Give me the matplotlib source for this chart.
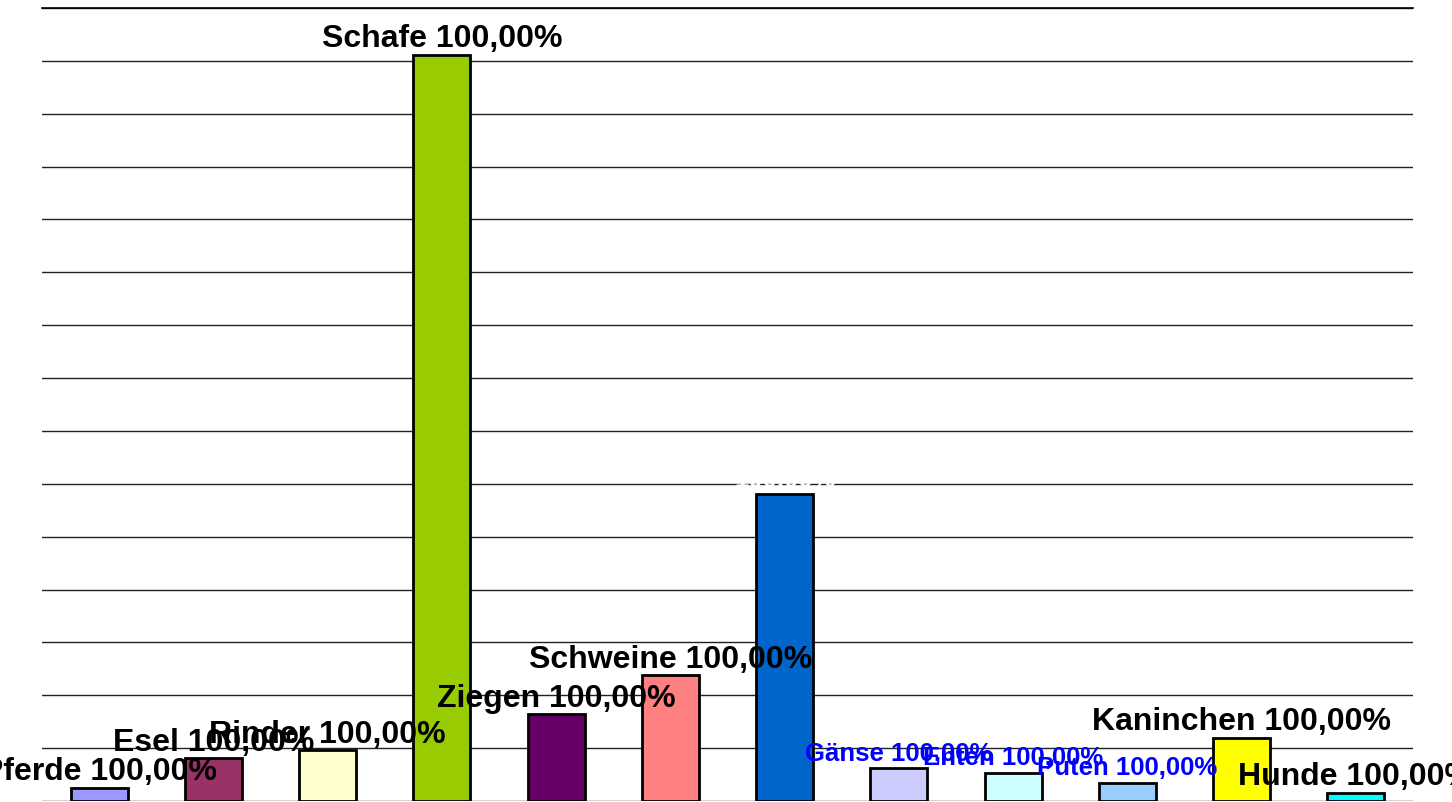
import matplotlib
matplotlib.use("Agg")
import matplotlib.pyplot as plt

# Tierarten und Balkenhöhen (Einheit = Gitterabstand)
tiere = ["Pferde", "Esel", "Rinder", "Schafe", "Ziegen", "Schweine", "Hühner",
         "Gänse", "Enten", "Puten", "Kaninchen", "Hunde"]
werte = [0.25, 0.81, 0.96, 14.12, 1.64, 2.38, 5.80, 0.62, 0.53, 0.34, 1.19, 0.15]
farben = ["#9999FF", "#993366", "#FFFFCC", "#99CC00", "#660066", "#FF8080", "#0066CC",
          "#CCCCFF", "#CCFFFF", "#99CCFF", "#FFFF00", "#00FFFF"]
beschriftungen = [t + " 100,00%" for t in tiere]
beschriftungen[6] = "100,00%"
text_farben = ["black"] * 6 + ["white", "blue", "blue", "blue", "black", "black"]
text_groessen = [23] * 6 + [18.5, 18.5, 18.5, 18.5, 23, 23]

plt.rcParams["font.family"] = ["Liberation Sans", "DejaVu Sans"]

fig = plt.figure(figsize=(14.52, 8.02), dpi=100)
ax = fig.add_axes([42 / 1452, 1 / 802, 1371 / 1452, 793 / 802])

x = list(range(len(tiere)))
ax.bar(x, werte, width=0.5, color=farben, edgecolor="black", linewidth=2, zorder=3)

ax.set_xlim(-0.5, len(tiere) - 0.5)
ax.set_ylim(0, 15)
ax.set_yticks(range(0, 16))
ax.yaxis.grid(True, color="#222222", linewidth=1, zorder=0)
ax.tick_params(left=False, bottom=False, labelleft=False, labelbottom=False)
for s in ["left", "right", "bottom"]:
    ax.spines[s].set_visible(False)
ax.spines["top"].set_color("black")
ax.spines["top"].set_linewidth(1.2)

for xi, w, txt, c, fs in zip(x, werte, beschriftungen, text_farben, text_groessen):
    ax.annotate(txt, (xi, w), xytext=(0, 5.5), textcoords="offset points",
                ha="center", va="baseline", fontsize=fs, fontweight="bold",
                color=c, annotation_clip=False, zorder=5)

fig.savefig("out.png", dpi=100, facecolor="white")
